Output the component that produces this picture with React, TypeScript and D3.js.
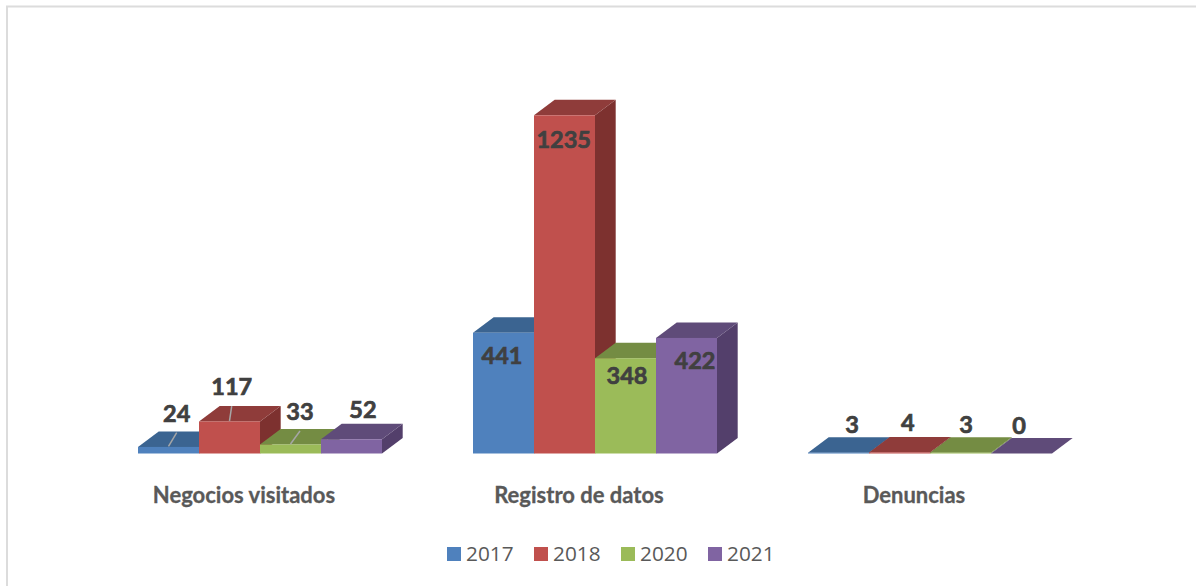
import React from "react";
import * as d3 from "d3";

const categories = ["Negocios visitados", "Registro de datos", "Denuncias"];
const seriesNames = ["2017", "2018", "2020", "2021"];
const values2017 = [24, 441, 3];
const values2018 = [117, 1235, 4];
const values2020 = [33, 348, 3];
const values2021 = [52, 422, 0];
const seriesValues = [values2017, values2018, values2020, values2021];

const frontColors = ["#4F81BD", "#C0504D", "#9BBB59", "#8064A2"];
const topColors = ["#3B6491", "#8F3C3A", "#748C43", "#5F4B79"];
const sideColors = ["#345678", "#7D312F", "#657A3A", "#533F6B"];

// Hand-placed label offsets (from the centre of the bar's top front edge), by category then series
const labelDx = [
  [8.2, 2.2, 9.5, 11.5],
  [-1.5, -0.8, 1.5, 8.5],
  [13.5, 8.2, 5.5, -2.5],
];
const labelDy = [
  [-25.2, -26.4, -24.5, -21.2],
  [31.4, 32.3, 25.9, 31.2],
  [-20, -21.7, -20, -19.5],
];
const leaderLines = [
  [true, true, true, false],
  [false, false, false, false],
  [false, false, false, false],
];

const W = 1196;
const H = 586;
const baseY = 453.5;
const depthX = 20.7;
const depthY = 15.5;
const FONT = "Lato, Carlito, sans-serif";
const LEGEND_FONT = "'Open Sans', sans-serif";

export default function App() {
  const x0 = d3.scaleBand<string>().domain(categories).range([92.5, 1097.5]).paddingInner(0).paddingOuter(0);
  const x1 = d3.scaleBand<string>().domain(seriesNames).range([45.5, 289.5]);
  const y = d3.scaleLinear().domain([0, 1235]).range([baseY, 115.3]);
  const legendX = d3.scaleLinear().domain([0, 3]).range([447, 708]);
  const face = d3.line();

  const bars = categories.flatMap((c, ci) =>
    seriesNames.map((s, si) => {
      const x = (x0(c) as number) + (x1(s) as number);
      const w = x1.bandwidth();
      const t = y(seriesValues[si][ci]);
      return { c, ci, s, si, x, w, t, v: seriesValues[si][ci] };
    })
  );

  return (
    <svg
      width={W}
      height={H}
      viewBox={`0 0 ${W} ${H}`}
      style={{ position: "absolute", left: 0, top: 0, display: "block", background: "#fff" }}
    >
      <path d={`M${W + 2},6.5 H7 V${H + 2}`} fill="none" stroke="#DCDCDC" strokeWidth={2} />

      {bars.map((b) => (
        <g key={`${b.c}-${b.s}`}>
          <path
            d={
              face([
                [b.x + b.w, b.t],
                [b.x + b.w + depthX, b.t - depthY],
                [b.x + b.w + depthX, baseY - depthY],
                [b.x + b.w, baseY],
              ]) + "Z"
            }
            fill={sideColors[b.si]}
          />
          <path
            d={
              face([
                [b.x, b.t],
                [b.x + depthX, b.t - depthY],
                [b.x + b.w + depthX, b.t - depthY],
                [b.x + b.w, b.t],
              ]) + "Z"
            }
            fill={topColors[b.si]}
          />
          <rect x={b.x} y={b.t} width={b.w} height={baseY - b.t} fill={frontColors[b.si]} />
        </g>
      ))}

      {bars
        .filter((b) => leaderLines[b.ci][b.si])
        .map((b) => {
          const cx = b.x + b.w / 2;
          const lx = cx + labelDx[b.ci][b.si];
          const ly = b.t + labelDy[b.ci][b.si];
          return (
            <line
              key={`lead-${b.c}-${b.s}`}
              x1={cx}
              y1={b.t - 0.5}
              x2={lx}
              y2={ly + 11}
              stroke="#A6A6A6"
              strokeWidth={1.5}
            />
          );
        })}

      {bars.map((b) => (
        <text
          key={`label-${b.c}-${b.s}`}
          x={b.x + b.w / 2 + labelDx[b.ci][b.si]}
          y={b.t + labelDy[b.ci][b.si]}
          textAnchor="middle"
          fontFamily={FONT}
          fontWeight={700}
          fontSize={23.5}
          fill="#404040"
          stroke="#404040"
          strokeWidth={0.7}
        >
          {b.v}
        </text>
      ))}

      {categories.map((c) => (
        <text
          key={c}
          x={(x0(c) as number) + x0.bandwidth() / 2 - 16}
          y={503}
          textAnchor="middle"
          fontFamily={FONT}
          fontWeight={700}
          fontSize={22}
          fill="#595959"
          stroke="#595959"
          strokeWidth={0.3}
        >
          {c}
        </text>
      ))}

      {seriesNames.map((s, i) => (
        <g key={s}>
          <rect x={legendX(i)} y={547} width={14} height={14} fill={frontColors[i]} />
          <text x={legendX(i) + 19} y={561} fontFamily={LEGEND_FONT} fontSize={20.8} fill="#595959">
            {s}
          </text>
        </g>
      ))}
    </svg>
  );
}
